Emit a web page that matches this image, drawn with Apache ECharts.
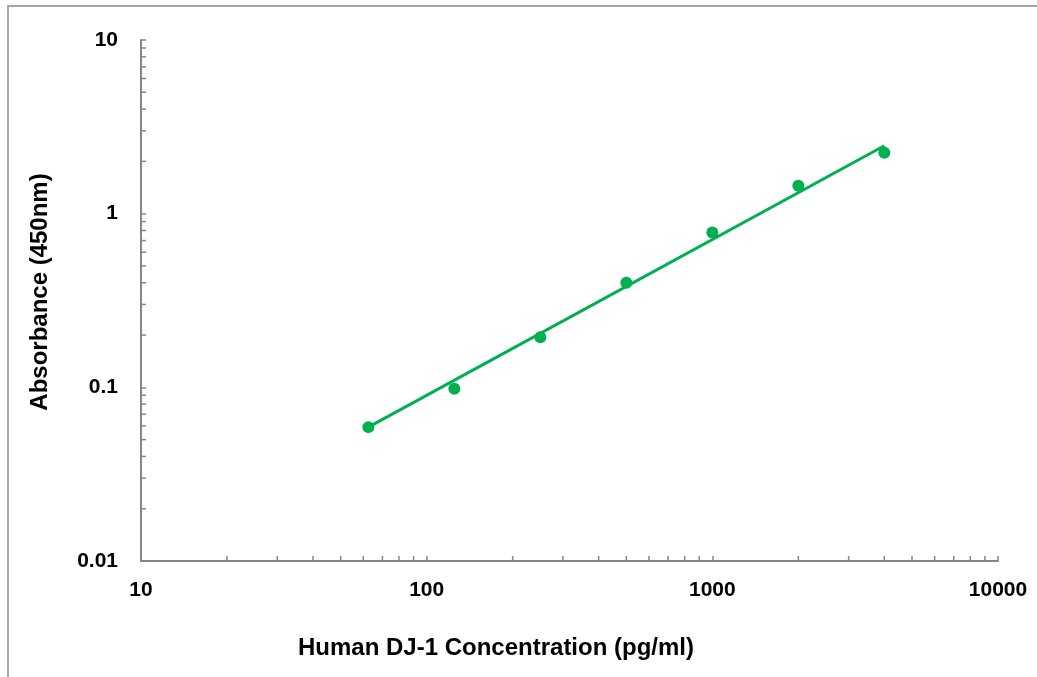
<!DOCTYPE html>
<html>
<head>
<meta charset="utf-8">
<script src="https://cdn.jsdelivr.net/npm/echarts@6/dist/echarts.min.js"></script>
<style>
html,body{margin:0;padding:0;background:#fff;}
#c{width:1037px;height:677px;}
</style>
</head>
<body>
<div id="c"></div>
<script>
// Data
var concentrations = [62.5, 125, 250, 500, 1000, 2000, 4000];
var absorbances   = [0.059, 0.098, 0.194, 0.40, 0.78, 1.45, 2.24];
// Trend (fit) line end points
var fitX = [62.5, 4000];
var fitY = [0.059, 2.46];
// Axis tick labels
var xTickLabels = ['10', '100', '1000', '10000'];
var yTickLabels = ['0.01', '0.1', '1', '10'];
var xMin = 10, xMax = 10000, yMin = 0.01, yMax = 10;
var xName = 'Human DJ-1 Concentration (pg/ml)';
var yName = 'Absorbance (450nm)';
// Minor tick positions (2..9 within each decade)
var xMinorTicks = [];
[10, 100, 1000].forEach(function (d) { for (var k = 2; k <= 9; k++) xMinorTicks.push(k * d); });
var yMinorTicks = [];
[0.01, 0.1, 1].forEach(function (d) { for (var k = 2; k <= 9; k++) yMinorTicks.push(+(k * d).toPrecision(3)); });

var GREEN = '#00B050';
var AXIS = '#868686';
var FONT = '"Liberation Sans", Arial, sans-serif';

function fmt(list) {
  return function (v) {
    for (var i = 0; i < list.length; i++) {
      if (Math.abs(Math.log10(v) - Math.log10(parseFloat(list[i]))) < 1e-6) return list[i];
    }
    return '';
  };
}

var chart = echarts.init(document.getElementById('c'), null, {renderer: 'canvas'});
chart.setOption({
  animation: false,
  backgroundColor: '#fff',
  grid: {left: 141, right: 39, top: 40, bottom: 116, containLabel: false},
  xAxis: {
    type: 'log', logBase: 10, min: xMin, max: xMax,
    axisLine: {show: true, lineStyle: {color: AXIS, width: 2}},
    axisTick: {show: true, inside: true, length: 5, lineStyle: {color: AXIS, width: 1.5}},
    splitLine: {show: false},
    minorTick: {show: false},
    axisLabel: {color: '#000', fontFamily: FONT, fontWeight: 'bold', fontSize: 21, margin: 19, formatter: fmt(xTickLabels)}
  },
  yAxis: {
    type: 'log', logBase: 10, min: yMin, max: yMax,
    axisLine: {show: true, lineStyle: {color: AXIS, width: 2}},
    axisTick: {show: true, inside: true, length: 5, lineStyle: {color: AXIS, width: 1.5}},
    splitLine: {show: false},
    minorTick: {show: false},
    axisLabel: {color: '#000', fontFamily: FONT, fontWeight: 'bold', fontSize: 21, margin: 23, formatter: fmt(yTickLabels)}
  },
  graphic: [
    {type: 'polyline', shape: {points: [[8, 677], [8, 6], [1037, 6]]}, style: {stroke: '#a6a6a6', lineWidth: 2, fill: null}, silent: true},
    {type: 'text', x: 496, y: 648, style: {text: xName, fill: '#000', font: 'bold 24px ' + FONT, textAlign: 'center', textVerticalAlign: 'middle'}},
    {type: 'text', x: 40, y: 292, rotation: Math.PI / 2, style: {text: yName, fill: '#000', font: 'bold 24px ' + FONT, textAlign: 'center', textVerticalAlign: 'middle'}}
  ],
  series: [
    {
      type: 'custom', silent: true, clip: false,
      data: xMinorTicks.map(function (v) { return [v, yMin]; }),
      renderItem: function (params, api) {
        var p = api.coord([api.value(0), api.value(1)]);
        return {type: 'line', shape: {x1: p[0], y1: p[1], x2: p[0], y2: p[1] - 5}, style: {stroke: AXIS, lineWidth: 1.5}};
      }
    },
    {
      type: 'custom', silent: true, clip: false,
      data: yMinorTicks.map(function (v) { return [xMin, v]; }),
      renderItem: function (params, api) {
        var p = api.coord([api.value(0), api.value(1)]);
        return {type: 'line', shape: {x1: p[0], y1: p[1], x2: p[0] + 5, y2: p[1]}, style: {stroke: AXIS, lineWidth: 1.5}};
      }
    },
    {
      type: 'line', silent: true,
      data: fitX.map(function (x, i) { return [x, fitY[i]]; }),
      showSymbol: false, symbol: 'none',
      lineStyle: {color: GREEN, width: 3}
    },
    {
      type: 'scatter', silent: true,
      data: concentrations.map(function (x, i) { return [x, absorbances[i]]; }),
      symbol: 'circle', symbolSize: 12,
      itemStyle: {color: GREEN, opacity: 1}
    }
  ]
});
</script>
</body>
</html>
